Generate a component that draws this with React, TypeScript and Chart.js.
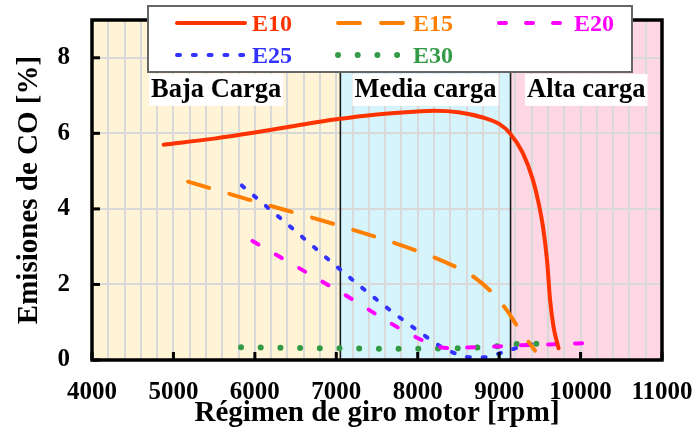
import { useEffect, useRef } from 'react';
import { Chart, registerables } from 'chart.js';

Chart.register(...registerables);

const SERIF = '"Liberation Serif", "Times New Roman", serif';

// Engine speed (rpm) and CO emissions (%) for each ethanol blend
const rpmE10 = [4880, 5500, 6000, 6500, 7000, 7500, 8000, 8200, 8500, 8800, 9000, 9130, 9290, 9410, 9480, 9540, 9590, 9625, 9670, 9730];
const coE10 = [5.70, 5.86, 6.02, 6.20, 6.37, 6.50, 6.58, 6.60, 6.56, 6.42, 6.25, 6.01, 5.48, 4.80, 4.20, 3.50, 2.60, 1.60, 0.85, 0.31];

const rpmE15 = [5180, 6000, 7000, 8000, 8490, 8700, 8920, 9100, 9230, 9440];
const coE15 = [4.72, 4.20, 3.58, 2.88, 2.44, 2.18, 1.77, 1.30, 0.87, 0.25];

const rpmE20 = [5970, 7000, 8100, 8350, 8700, 9000, 9400, 9700, 10100];
const coE20 = [3.15, 1.86, 0.48, 0.32, 0.34, 0.36, 0.40, 0.42, 0.45];

const rpmE25 = [5840, 6500, 7040, 7630, 8090, 8250, 8420, 8600, 8800, 8980, 9170, 9400];
const coE25 = [4.62, 3.41, 2.41, 1.37, 0.64, 0.40, 0.21, 0.08, 0.07, 0.16, 0.29, 0.42];

const rpmE30 = [5830, 6500, 7000, 7500, 8000, 8500, 8750, 9000, 9200, 9470];
const coE30 = [0.34, 0.32, 0.31, 0.30, 0.30, 0.31, 0.33, 0.37, 0.42, 0.43];

// Load zones along the speed axis
const zoneNames = ['Baja Carga', 'Media carga', 'Alta carga'];
const zoneBounds = [4000, 7050, 9140, 11000];
const zoneColors = ['#fff4d6', '#d6f4fc', '#ffd6e4'];
const zoneLabelLevel = 7.15;

const xTickLabels = [4000, 5000, 6000, 7000, 8000, 9000, 10000, 11000];
const yTickLabels = [0, 2, 4, 6, 8];

const toPoints = (xs: number[], ys: number[]) => xs.map((x, i) => ({ x, y: ys[i] }));

const zonesAndFrame = {
  id: 'zonesAndFrame',
  beforeDraw(chart: any) {
    const { ctx, chartArea, scales } = chart;
    const x = scales.x;
    ctx.save();
    for (let i = 0; i < zoneNames.length; i++) {
      const x0 = x.getPixelForValue(zoneBounds[i]);
      const x1 = x.getPixelForValue(zoneBounds[i + 1]);
      ctx.fillStyle = zoneColors[i];
      ctx.fillRect(x0, chartArea.top, x1 - x0, chartArea.bottom - chartArea.top);
    }
    ctx.restore();
  },
  beforeDatasetsDraw(chart: any) {
    const { ctx, chartArea, scales } = chart;
    ctx.save();
    ctx.strokeStyle = '#1a1a1a';
    ctx.lineWidth = 1.6;
    for (let i = 1; i < zoneBounds.length - 1; i++) {
      const px = scales.x.getPixelForValue(zoneBounds[i]);
      ctx.beginPath();
      ctx.moveTo(px, chartArea.top);
      ctx.lineTo(px, chartArea.bottom);
      ctx.stroke();
    }
    ctx.restore();
  },
  afterDraw(chart: any) {
    const { ctx, chartArea, scales } = chart;
    const { left, right, top, bottom } = chartArea;
    ctx.save();

    // plot frame
    ctx.strokeStyle = '#000';
    ctx.lineWidth = 3.5;
    ctx.strokeRect(left, top, right - left, bottom - top);

    // inward tick marks
    ctx.fillStyle = '#000';
    xTickLabels.forEach((v) => {
      const px = scales.x.getPixelForValue(v);
      ctx.fillRect(px - 1.5, bottom - 8, 3, 8);
    });
    yTickLabels.forEach((v) => {
      const py = scales.y.getPixelForValue(v);
      ctx.fillRect(left, py - 1.5, 8, 3);
    });

    // zone captions on white boxes
    ctx.font = `bold 26.5px ${SERIF}`;
    ctx.textAlign = 'center';
    ctx.textBaseline = 'alphabetic';
    const cy = scales.y.getPixelForValue(zoneLabelLevel);
    for (let i = 0; i < zoneNames.length; i++) {
      const cx = (scales.x.getPixelForValue(zoneBounds[i]) + scales.x.getPixelForValue(zoneBounds[i + 1])) / 2;
      const w = ctx.measureText(zoneNames[i]).width + 4;
      ctx.fillStyle = '#fff';
      ctx.fillRect(cx - w / 2, cy - 16, w, 32);
      ctx.fillStyle = '#000';
      ctx.fillText(zoneNames[i], cx, cy + 7);
    }

    // legend box
    ctx.fillStyle = '#fff';
    ctx.fillRect(148, 6, 484, 66);
    ctx.strokeStyle = '#666';
    ctx.lineWidth = 2;
    ctx.strokeRect(148, 6, 484, 66);

    ctx.font = `bold 24px ${SERIF}`;
    ctx.textAlign = 'left';
    chart.data.datasets.forEach((ds: any, i: number) => {
      const col = i % 3;
      const row = Math.floor(i / 3);
      const sx = 177 + col * 161;
      const sy = 23 + row * 32;
      ctx.save();
      ctx.strokeStyle = ds.borderColor;
      ctx.lineWidth = ds.borderWidth;
      ctx.lineCap = ds.borderCapStyle || 'butt';
      ctx.setLineDash(ds.borderDash || []);
      ctx.beginPath();
      ctx.moveTo(sx, sy);
      ctx.lineTo(sx + 68, sy);
      ctx.stroke();
      ctx.restore();
      ctx.fillStyle = ds.borderColor;
      ctx.fillText(ds.label, sx + 75, sy + 8);
    });

    ctx.restore();
  },
};

export default function App() {
  const canvasRef = useRef<HTMLCanvasElement | null>(null);

  useEffect(() => {
    const canvas = canvasRef.current;
    if (!canvas) return;
    const common = {
      pointRadius: 0,
      fill: false,
      cubicInterpolationMode: 'monotone' as const,
    };
    const chart = new Chart(canvas, {
      type: 'line',
      data: {
        datasets: [
          { ...common, label: 'E10', data: toPoints(rpmE10, coE10), borderColor: '#ff3300', borderWidth: 4, borderCapStyle: 'round' },
          { ...common, label: 'E15', data: toPoints(rpmE15, coE15), borderColor: '#ff8000', borderWidth: 4, borderCapStyle: 'round', borderDash: [22, 21] },
          { ...common, label: 'E20', data: toPoints(rpmE20, coE20), borderColor: '#ff00ff', borderWidth: 4, borderCapStyle: 'round', borderDash: [7, 20] },
          { ...common, label: 'E25', data: toPoints(rpmE25, coE25), borderColor: '#3333ff', borderWidth: 4, borderCapStyle: 'round', borderDash: [3, 12.8] },
          { ...common, label: 'E30', data: toPoints(rpmE30, coE30), borderColor: '#339a45', borderWidth: 6, borderCapStyle: 'round', borderDash: [0.001, 19.7] },
        ] as any,
      },
      options: {
        animation: false,
        responsive: false,
        devicePixelRatio: 1,
        layout: { padding: { top: 20, right: 36, left: 0, bottom: 0 } },
        plugins: { legend: { display: false }, tooltip: { enabled: false } },
        scales: {
          x: {
            type: 'linear',
            min: 4000,
            max: 11000,
            afterFit: (s: any) => {
              s.height = 73;
              s.paddingLeft = 0;
              s.paddingRight = 0;
            },
            ticks: {
              stepSize: 200,
              autoSkip: false,
              maxRotation: 0,
              padding: 18,
              color: '#000',
              font: { family: SERIF, size: 25, weight: 'bold' },
              callback: (v: any) => (xTickLabels.includes(Number(v)) ? String(v) : ''),
            },
            grid: { color: '#d9d9d9', lineWidth: 2, drawTicks: false },
            border: { display: false },
            title: {
              display: true,
              text: 'Régimen de giro motor [rpm]',
              color: '#000',
              font: { family: SERIF, size: 29, weight: 'bold' },
              padding: { top: 0, bottom: 2 },
            },
          },
          y: {
            min: 0,
            max: 9,
            afterFit: (s: any) => {
              s.width = 92;
              s.paddingTop = 0;
              s.paddingBottom = 0;
            },
            afterBuildTicks: (s: any) => { s.ticks = yTickLabels.map((v) => ({ value: v })); },
            ticks: {
              padding: 22,
              color: '#000',
              font: { family: SERIF, size: 25, weight: 'bold' },
            },
            grid: { color: '#d9d9d9', lineWidth: 2, drawTicks: false },
            border: { display: false },
            title: {
              display: true,
              text: 'Emisiones de CO [%]',
              color: '#000',
              font: { family: SERIF, size: 29, weight: 'bold' },
              padding: { top: 12, bottom: 0 },
            },
          },
        },
      },
      plugins: [zonesAndFrame],
    });
    return () => chart.destroy();
  }, []);

  return (
    <div style={{ position: 'fixed', left: 0, top: 0, width: 698, height: 433, background: '#fff' }}>
      <canvas ref={canvasRef} width={698} height={433} style={{ width: 698, height: 433, display: 'block' }} />
    </div>
  );
}
